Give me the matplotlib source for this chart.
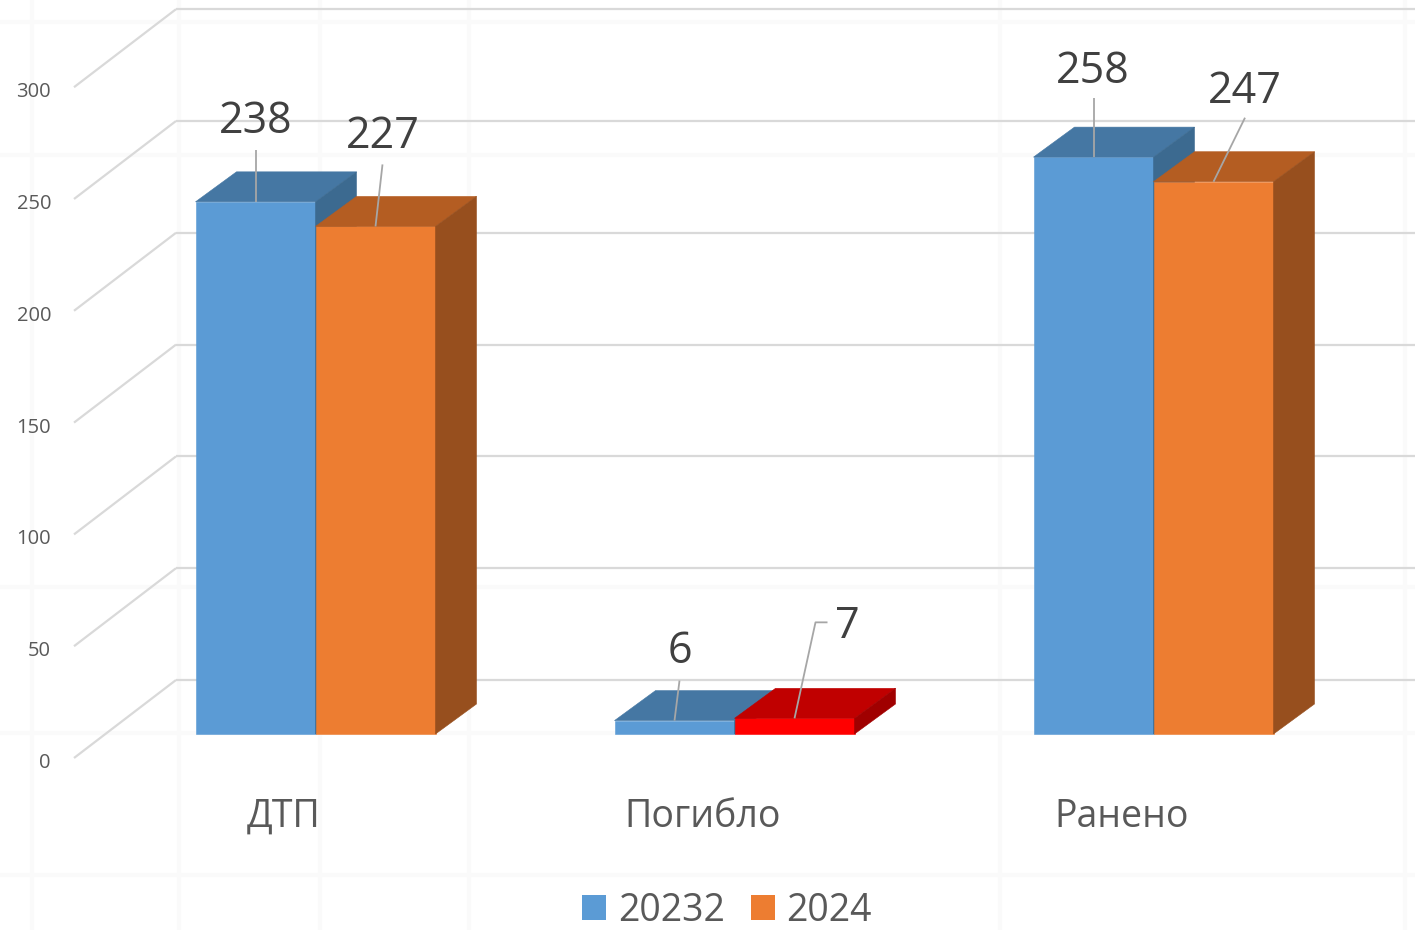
import matplotlib
matplotlib.use('Agg')
import matplotlib.pyplot as plt
from matplotlib.patches import Patch

plt.rcParams['font.family'] = ['Open Sans', 'DejaVu Sans']

# ---- data ----
categories = ['ДТП', 'Погибло', 'Ранено']
series_names = ['20232', '2024']
values_2023 = [238, 6, 258]
values_2024 = [227, 7, 247]
yticks = [0, 50, 100, 150, 200, 250, 300]

# ---- styling ----
front_colors = [['#5B9BD5'] * 3, ['#ED7D31', '#FF0000', '#ED7D31']]
top_colors = [['#4577A3'] * 3, ['#B45D22', '#C00000', '#B45D22']]
side_colors = [['#3C6A90'] * 3, ['#974F1E', '#A00000', '#974F1E']]
legend_colors = ['#5B9BD5', '#ED7D31']

# label offsets in pixels from the top-centre of each bar (x right, y down)
label_off = [[(0, -69), (5, -58), (-1, -74)],
             [(7, -78), (53, -80), (31.5, -79)]]
leader_pts = [[[(0, -52)], [(5, -40)], [(0, -59)]],
              [[(7, -62)], [(33, -96), (21, -96)], [(31.5, -64)]]]

W_PX, H_PX = 1415, 930
PPX = 419.0    # pixels per category
PPV = 2.236    # pixels per value unit
X0_PX = 315.5  # pixel x of first category centre
V0_PX = 734.0  # pixel y of value 0 in bar plane

BAR_W = 120 / PPX
FRONT = (-32, 24)   # label plane shift (px)
BACK = (70, -54)    # back wall shift (px)
DEPTH = (41, -30)   # bar depth shift (px)


def sx(px):
    return px / PPX


def sv(py):
    return -py / PPV


fig = plt.figure(figsize=(W_PX / 100, H_PX / 100), dpi=100)
ax = fig.add_axes([0, 0, 1, 1])
ax.set_xlim(-X0_PX / PPX, (W_PX - X0_PX) / PPX)
ax.set_ylim((V0_PX - H_PX) / PPV, V0_PX / PPV)
ax.axis('off')

# faint background pattern
for xp in [32, 179, 320, 469, 1000, 1405]:
    fig.add_artist(plt.Line2D([xp / W_PX] * 2, [0, 1], color='#fafafa', lw=3, zorder=0))
for yp in [22, 155, 587, 733, 875]:
    fig.add_artist(plt.Line2D([0, 1], [1 - yp / H_PX] * 2, color='#fafafa', lw=3, zorder=0))

# walls / gridlines
grid_c = '#d9d9d9'
xl_wall, xr_wall = -0.5, len(categories) - 0.5
for t in yticks:
    fx, fv = xl_wall + sx(FRONT[0]), t + sv(FRONT[1])
    bx, bv = xl_wall + sx(BACK[0]), t + sv(BACK[1])
    ax.plot([fx, bx], [fv, bv], color=grid_c, lw=1.6, zorder=1, solid_capstyle='butt')
    ax.plot([bx, xr_wall + sx(BACK[0])], [bv, bv], color=grid_c, lw=1.6, zorder=1,
            solid_capstyle='butt')
    ax.text(xl_wall + sx(FRONT[0]) + sx(-23), t + sv(FRONT[1]) + sv(10), str(t),
            ha='right', va='baseline', fontsize=14.5, color='#595959')

# bars
dx, dv = sx(DEPTH[0]), sv(DEPTH[1])
series_vals = [values_2023, values_2024]
for s, vals in enumerate(series_vals):
    lefts = [i - BAR_W + s * BAR_W for i in range(len(categories))]
    ax.bar(lefts, vals, width=BAR_W, align='edge', color=front_colors[s],
           edgecolor=front_colors[s], linewidth=0.4, zorder=2 + 2 * s)
    for i, (xl, v) in enumerate(zip(lefts, vals)):
        xr = xl + BAR_W
        ax.fill([xl, xr, xr + dx, xl + dx], [v, v, v + dv, v + dv],
                color=top_colors[s][i], lw=0.4, zorder=3 + 2 * s)
        ax.fill([xr, xr, xr + dx, xr + dx], [0, v, v + dv, dv],
                color=side_colors[s][i], lw=0.4, zorder=3 + 2 * s)

# data labels with leader lines
for s, vals in enumerate(series_vals):
    for i, v in enumerate(vals):
        cx = i - BAR_W / 2 + s * BAR_W
        pts = [(cx + sx(p[0]), v + sv(p[1])) for p in leader_pts[s][i]] + [(cx, v)]
        ax.plot([p[0] for p in pts], [p[1] for p in pts], color='#a6a6a6', lw=1.3,
                zorder=10, solid_capstyle='butt')
        ox, oy = label_off[s][i]
        ax.text(cx + sx(ox), v + sv(oy), str(v), ha='center', va='baseline',
                fontsize=31, color='#404040', zorder=11)

# category labels
for i, c in enumerate(categories):
    ax.text(i + sx(FRONT[0]), sv(827 - V0_PX), c, ha='center', va='baseline',
            fontsize=27, color='#595959')

# legend
handles = [Patch(facecolor=legend_colors[k], edgecolor='none', label=series_names[k])
           for k in range(2)]
leg = fig.legend(handles=handles, loc='center', ncol=2, frameon=False, fontsize=27,
                 bbox_to_anchor=(727 / W_PX, 1 - 911 / H_PX),
                 handlelength=0.64, handleheight=0.64, handletextpad=0.3,
                 columnspacing=0.7, borderpad=0, labelcolor='#595959')

fig.savefig('out.png', dpi=100)
